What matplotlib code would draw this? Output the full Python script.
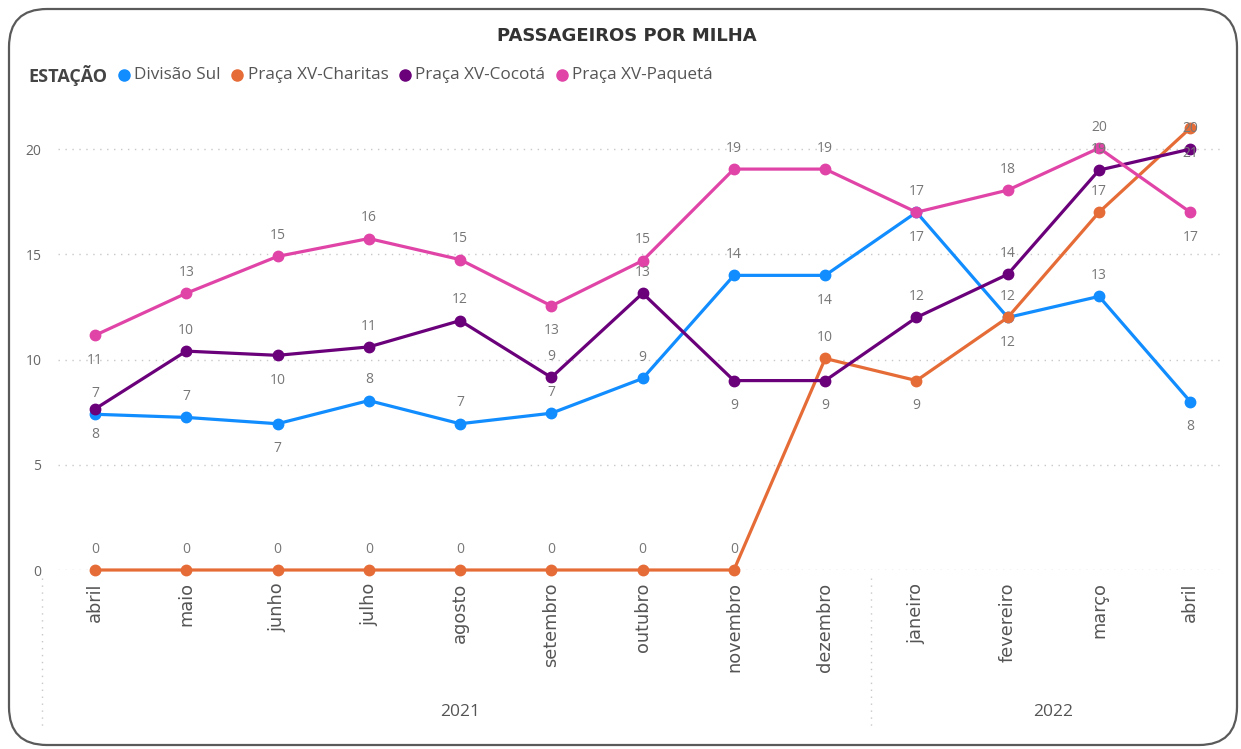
import matplotlib.pyplot as plt
from matplotlib.patches import FancyBboxPatch
from matplotlib.lines import Line2D
import matplotlib.transforms as mtransforms

# %% data
months = ["abril", "maio", "junho", "julho", "agosto", "setembro", "outubro",
          "novembro", "dezembro", "janeiro", "fevereiro", "março", "abril"]
years = ["2021"] * 9 + ["2022"] * 4

divisao_sul = [7.4, 7.25, 6.95, 8.05, 6.95, 7.45, 9.1, 14.0, 14.0, 17.0, 12.0, 13.0, 8.0]
charitas = [0, 0, 0, 0, 0, 0, 0, 0, 10.05, 9.0, 12.0, 17.0, 21.0]
cocota = [7.65, 10.4, 10.2, 10.6, 11.85, 9.15, 13.15, 9.0, 9.0, 12.0, 14.05, 19.0, 20.0]
paqueta = [11.15, 13.15, 14.9, 15.75, 14.75, 12.55, 14.7, 19.05, 19.05, 17.0, 18.05, 20.05, 17.0]

# shown data labels (rounded, as in the picture)
lbl_divisao = [7, 7, 7, 8, 7, 7, 9, 14, 14, 17, 12, 13, 8]
lbl_charitas = [0, 0, 0, 0, 0, 0, 0, 0, 10, 9, 12, 17, 21]
lbl_cocota = [8, 10, 10, 11, 12, 9, 13, 9, 9, 12, 14, 19, 20]
lbl_paqueta = [11, 13, 15, 16, 15, 13, 15, 19, 19, 17, 18, 20, 17]

# label placement: a = above the point, b = below
pos_divisao = "aabaaaaabbaab"
pos_charitas = "aaaaaaaaabbab"
pos_cocota = "babaaaabbaaaa"
pos_paqueta = "baaaabaaaaaab"

series = [
    ("Divisão Sul", divisao_sul, lbl_divisao, pos_divisao, "#118DFF"),
    ("Praça XV-Charitas", charitas, lbl_charitas, pos_charitas, "#E66C37"),
    ("Praça XV-Cocotá", cocota, lbl_cocota, pos_cocota, "#6B007B"),
    ("Praça XV-Paquetá", paqueta, lbl_paqueta, pos_paqueta, "#E044A7"),
]

# %% figure
plt.rcParams["font.family"] = ["Open Sans", "DejaVu Sans"]
W, H = 1241, 749
fig = plt.figure(figsize=(W / 100, H / 100), dpi=100)

# card border (pixel coords)
card = FancyBboxPatch((9, 4), 1228, 736, boxstyle="round,pad=0,rounding_size=38",
                      transform=None, facecolor="none", edgecolor="#5a5a5a",
                      linewidth=1.6, zorder=-1)
fig.patches.append(card)

ax = fig.add_axes([58 / W, 1 - 570 / H, (1225 - 58) / W, (570 - 107) / H])
ax.set_facecolor("none")
x = list(range(len(months)))

for name, vals, lbls, pos, color in series:
    ax.plot(x, vals, color=color, lw=2.3, marker="o", ms=7.5, clip_on=False, zorder=3)
    for xi, v, t, p in zip(x, vals, lbls, pos):
        dy = 15 if p == "a" else -18
        ax.annotate(str(t), (xi, v), xytext=(0, dy), textcoords="offset points",
                    ha="center", va="center", fontsize=10, color="#777777", zorder=4)

ax.set_xlim(-0.405, 12.38)
ax.set_ylim(0, 22)
ax.set_yticks([0, 5, 10, 15, 20])
ax.grid(axis="y", color="#c8c8c8", linestyle=(0, (1, 4)), linewidth=1)
ax.set_axisbelow(True)
for s in ax.spines.values():
    s.set_visible(False)
ax.tick_params(axis="y", length=0, pad=12, labelsize=10, labelcolor="#666666")
ax.tick_params(axis="x", length=0, pad=9, labelsize=12.8, labelcolor="#555555")
ax.set_xticks(x)
ax.set_xticklabels(months, rotation=90, va="top", family="DejaVu Sans")

# year groups below the month labels
trans = mtransforms.blended_transform_factory(ax.transData, ax.transAxes)
for yr in ["2021", "2022"]:
    idx = [i for i, y in enumerate(years) if y == yr]
    ax.text((idx[0] + idx[-1]) / 2, -0.306, yr, transform=trans, ha="center", va="center",
            fontsize=12.5, color="#555555")
for xs in [-0.58, 8.5]:
    ax.add_line(Line2D([xs, xs], [-0.017, -0.342], transform=trans, color="#c8c8c8",
                       linestyle=(0, (1, 4)), lw=1, clip_on=False))

# title
fig.text(627 / W, 1 - 36 / H, "PASSAGEIROS POR MILHA", ha="center", va="center",
         fontsize=13, fontweight="bold", color="#333333",
         family=["DejaVu Sans Condensed", "DejaVu Sans"])

# legend, laid out left to right
fig.canvas.draw()
r = fig.canvas.get_renderer()
ly = 1 - 75 / H
t = fig.text(28 / W, ly, "ESTAÇÃO", ha="left", va="center", fontsize=13,
             fontweight="bold", color="#444444")
xp = t.get_window_extent(r).x1 + 12
for name, vals, lbls, pos, color in series:
    fig.add_artist(Line2D([(xp + 5) / W], [ly], marker="o", ms=8, color=color,
                          transform=fig.transFigure))
    t = fig.text((xp + 15) / W, ly, name, ha="left", va="center", fontsize=12.3,
                 color="#555555")
    xp = t.get_window_extent(r).x1 + 12

fig.savefig("out.png", dpi=100)
